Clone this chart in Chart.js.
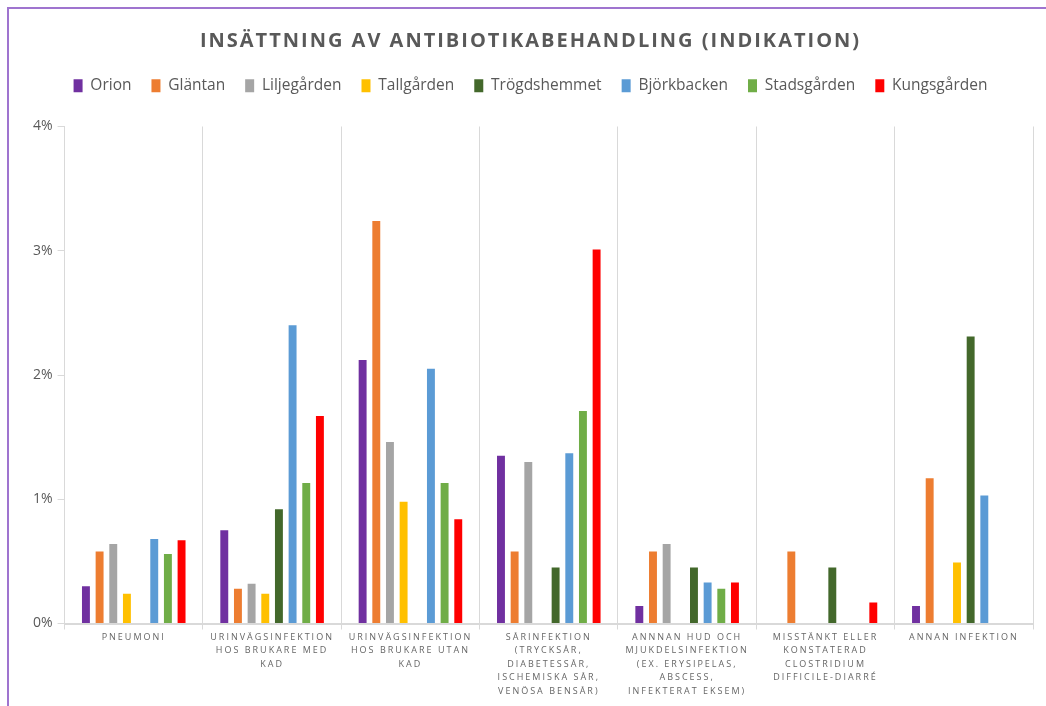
<!DOCTYPE html>
<html>
<head>
  <meta charset="utf-8">
  <title>Insättning av antibiotikabehandling</title>
  <script src="https://cdn.jsdelivr.net/npm/chart.js"></script>
  <style>
    html,body{margin:0;padding:0;background:#fff;}
    #wrap{position:absolute;left:7px;top:7px;width:1037px;height:697px;border-left:2px solid #9f74cf;border-top:2px solid #9f74cf;}
    canvas{display:block;}
  </style>
</head>
<body>
  <div id="wrap"><canvas id="chart" width="1037" height="697"></canvas></div>
  <script>
    const categories = [
      ["PNEUMONI"],
      ["URINVÄGSINFEKTION", "HOS BRUKARE MED", "KAD"],
      ["URINVÄGSINFEKTION", "HOS BRUKARE UTAN", "KAD"],
      ["SÅRINFEKTION", "(TRYCKSÅR,", "DIABETESSÅR,", "ISCHEMISKA SÅR,", "VENÖSA BENSÅR)"],
      ["ANNNAN HUD OCH", "MJUKDELSINFEKTION", "(EX. ERYSIPELAS,", "ABSCESS,", "INFEKTERAT EKSEM)"],
      ["MISSTÄNKT ELLER", "KONSTATERAD", "CLOSTRIDIUM", "DIFFICILE-DIARRÉ"],
      ["ANNAN INFEKTION"]
    ];
    // values in percent
    const orion        = [0.30, 0.75, 2.12, 1.35, 0.14, 0,    0.14];
    const glantan      = [0.58, 0.28, 3.24, 0.58, 0.58, 0.58, 1.17];
    const liljegarden  = [0.64, 0.32, 1.46, 1.30, 0.64, 0,    0];
    const tallgarden   = [0.24, 0.24, 0.98, 0,    0,    0,    0.49];
    const trogdshemmet = [0,    0.92, 0,    0.45, 0.45, 0.45, 2.31];
    const bjorkbacken  = [0.68, 2.40, 2.05, 1.37, 0.33, 0,    1.03];
    const stadsgarden  = [0.56, 1.13, 1.13, 1.71, 0.28, 0,    0];
    const kungsgarden  = [0.67, 1.67, 0.84, 3.01, 0.33, 0.17, 0];
    const yTicks = [0, 1, 2, 3, 4];

    const series = [
      ["Orion", orion, "#7030a0"],
      ["Gläntan", glantan, "#ed7d31"],
      ["Liljegården", liljegarden, "#a5a5a5"],
      ["Tallgården", tallgarden, "#ffc000"],
      ["Trögdshemmet", trogdshemmet, "#43682b"],
      ["Björkbacken", bjorkbacken, "#5b9bd5"],
      ["Stadsgården", stadsgarden, "#70ad47"],
      ["Kungsgården", kungsgarden, "#ff0000"]
    ];

    // letter spacing for x labels and title, extra room under the legend
    const tweaks = {
      id: "tweaks",
      beforeInit(chart) {
        const lg = chart.legend;
        const fit = lg.fit.bind(lg);
        lg.fit = function () { fit(); this.height += 23; };
      },
      afterLayout(chart) {
        const x = chart.scales.x;
        if (x && !x._spaced) {
          const orig = x.drawLabels.bind(x);
          x.drawLabels = function (a) {
            chart.ctx.save(); chart.ctx.letterSpacing = "2px"; orig(a); chart.ctx.restore();
          };
          x._spaced = true;
        }
        const t = chart.titleBlock;
        if (t && !t._spaced) {
          const o = t.draw.bind(t);
          t.draw = function () {
            chart.ctx.save(); chart.ctx.letterSpacing = "2px"; o(); chart.ctx.restore();
          };
          t._spaced = true;
        }
      }
    };

    new Chart(document.getElementById("chart"), {
      type: "bar",
      data: {
        labels: categories,
        datasets: series.map(s => ({
          label: s[0], data: s[1], backgroundColor: s[2],
          categoryPercentage: 0.79, barPercentage: 0.58
        }))
      },
      plugins: [tweaks],
      options: {
        responsive: false,
        animation: false,
        layout: { padding: { left: 19, right: 13, top: 20, bottom: 7 } },
        plugins: {
          title: {
            display: true,
            text: "INSÄTTNING AV ANTIBIOTIKABEHANDLING (INDIKATION)",
            color: "#595959",
            font: { family: "Open Sans", size: 20, weight: "bold" },
            padding: { top: 0, bottom: 5 }
          },
          legend: {
            labels: {
              color: "#595959",
              font: { family: "Open Sans", size: 15.5 },
              boxWidth: 9, boxHeight: 13, padding: 20
            }
          },
          tooltip: { enabled: false }
        },
        scales: {
          x: {
            grid: { offset: true, color: "#d9d9d9", tickLength: 6, drawOnChartArea: true },
            border: { color: "#d9d9d9", width: 2 },
            ticks: {
              color: "#666",
              font: { family: "Open Sans", size: 9, lineHeight: 1.5 },
              maxRotation: 0, autoSkip: false, padding: 1
            }
          },
          y: {
            min: 0, max: 4,
            afterBuildTicks: ax => { ax.ticks = yTicks.map(v => ({ value: v })); },
            grid: { drawOnChartArea: false, color: "#d9d9d9", tickLength: 7 },
            border: { color: "#d9d9d9", width: 1 },
            ticks: {
              color: "#595959",
              font: { family: "Open Sans", size: 14 },
              padding: 5,
              callback: v => v + "%"
            }
          }
        }
      }
    });
  </script>
</body>
</html>
